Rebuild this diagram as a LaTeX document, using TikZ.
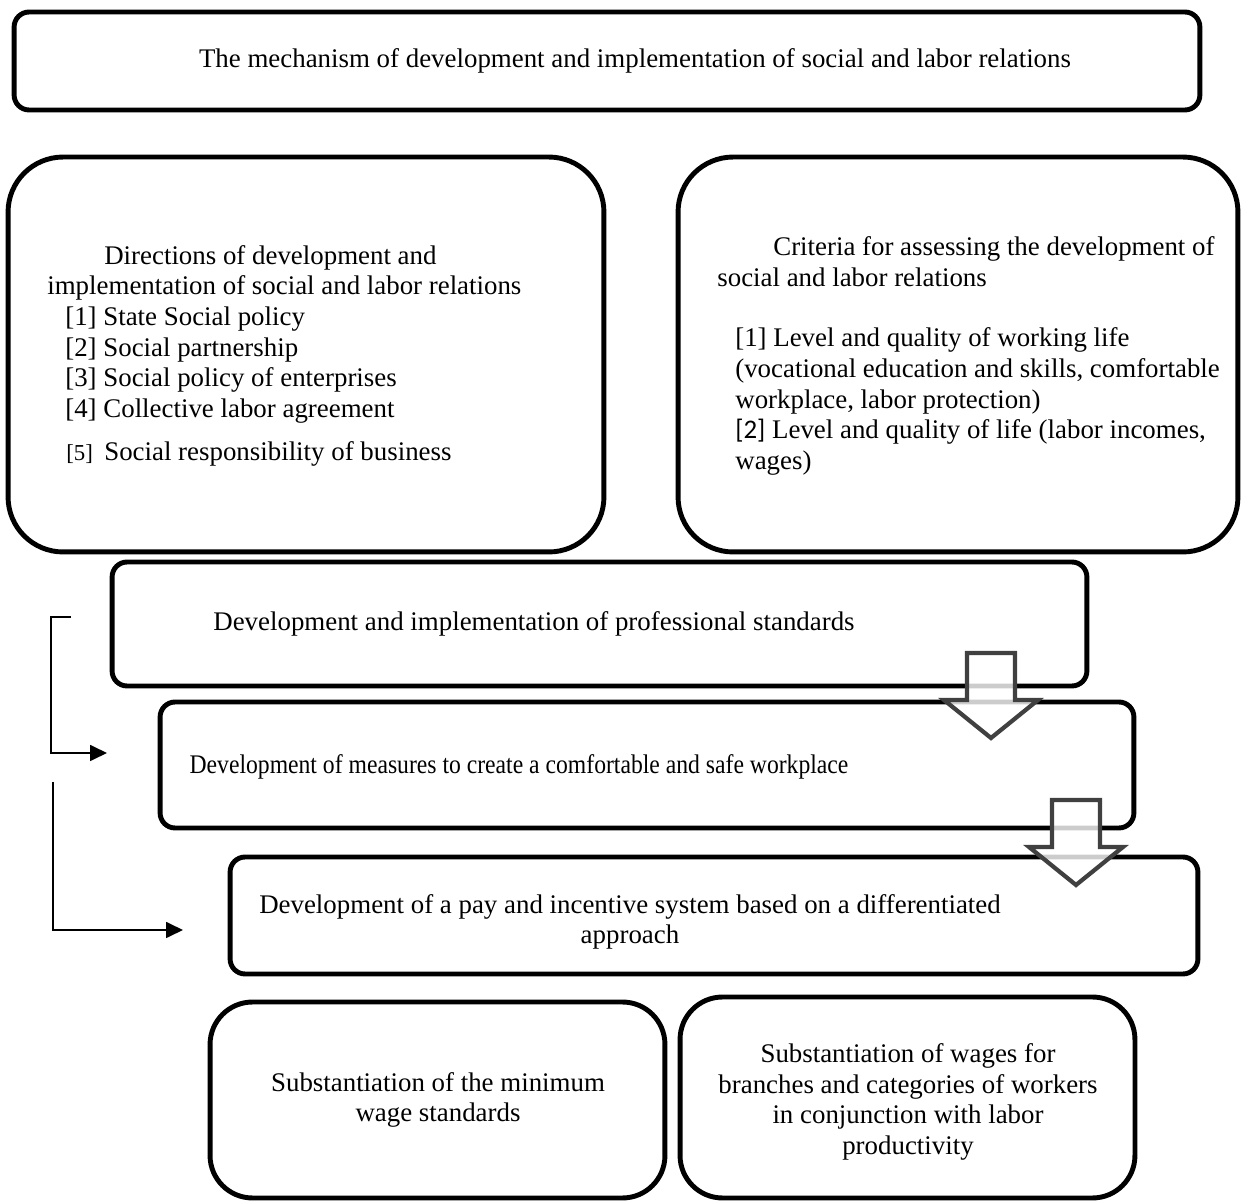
\documentclass[tikz,border=0pt]{standalone}
\usepackage{fontspec}
\setmainfont{Liberation Serif}
\newfontfamily\sansnum{Carlito}
\usepackage{graphicx}
\usepackage{tikz}
\usetikzlibrary{arrows.meta,positioning,calc}

\tikzset{
	box/.style={draw, line width=2.8pt, inner sep=0pt, rounded corners=0.3cm},
	bigbox/.style={box, rounded corners=1.1cm},
	lowbox/.style={box, rounded corners=0.85cm},
	txt/.style={inner sep=0pt, font=\fontsize{15.3pt}{17.4pt}\selectfont},
	link/.style={line width=1pt, -{Triangle[length=0.34cm, width=0.32cm]}},
	hollow/.style={draw=black!75, line width=2.4pt, fill=white, fill opacity=0.8, line join=miter},
}

\begin{document}
\begin{tikzpicture}[x=0.02cm, y=-0.02cm]
		\useasboundingbox (0,0) rectangle (1242,1202);

		\node[box, minimum width=23.72cm, minimum height=1.96cm] (title) at (607,61) {};
		\node[bigbox, minimum width=11.92cm, minimum height=7.9cm] (dirs) at (306,354.5) {};
		\node[bigbox, minimum width=11.2cm, minimum height=7.9cm] (crit) at (958,354.5) {};
		\node[box, minimum width=19.5cm, minimum height=2.48cm] (prof) at (599.5,624) {};
		\node[box, minimum width=19.48cm, minimum height=2.52cm] (meas) at (647,765) {};
		\node[box, minimum width=19.36cm, minimum height=2.34cm] (pay) at (714,915.5) {};
		\node[lowbox, minimum width=9.1cm, minimum height=3.92cm] (minw) at (437.5,1100) {};
		\node[lowbox, minimum width=9.1cm, minimum height=4.02cm] (wages) at (907.5,1097.5) {};

		\node[txt] (titletxt) at (635,61) {The mechanism of development and implementation of social and labor relations};

		\node[txt, anchor=west, align=left] (dirstxt) at (47,356) {\hspace*{1.14cm}Directions of development and\\
			implementation of social and labor relations\\
			\hspace*{0.36cm}[1] State Social policy\\
			\hspace*{0.36cm}[2] Social partnership\\
			\hspace*{0.36cm}[3] Social policy of enterprises\\
			\hspace*{0.36cm}[4] Collective labor agreement\\[0.26cm]
			\hspace*{0.38cm}\makebox[0.76cm][l]{\fontsize{13pt}{13pt}\selectfont[5]}Social responsibility of business};

		\node[txt, anchor=west, align=left] (crittxt) at (717,356) {\hspace*{1.12cm}Criteria for assessing the development of\\
			social and labor relations\\[0.6cm]
			\hspace*{0.36cm}[1] Level and quality of working life\\
			\hspace*{0.36cm}(vocational education and skills, comfortable\\
			\hspace*{0.36cm}workplace, labor protection)\\
			\hspace*{0.36cm}{\sansnum [2]} Level and quality of life (labor incomes,\\
			\hspace*{0.36cm}wages)};

		\node[txt] (proftxt) at (534,624) {Development and implementation of professional standards};
		\node[txt] (meastxt) at (519,767) {\scalebox{0.88}[1]{Development of measures to create a comfortable and safe workplace}};
		\node[txt, align=center] (paytxt) at (630,922) {Development of a pay and incentive system based on a differentiated\\ approach};
		\node[txt, align=center] (minwtxt) at (438,1100) {Substantiation of the minimum\\ wage standards};
		\node[txt, align=center] (wagestxt) at (908,1102) {Substantiation of wages for\\ branches and categories of workers\\ in conjunction with labor\\ productivity};

		\coordinate (k1) at (71,617);
		\coordinate (k2) at (51,753);
		\coordinate (k3) at (107,753);
		\coordinate (k4) at (53,782);
		\coordinate (k5) at (183,930);
		\draw[link] (k1) -| (k2) -- (k3);
		\draw[link] (k4) |- (k5);

		\coordinate (a1) at (991,653);
		\coordinate (a2) at (1076,800);
		\foreach \a in {a1,a2} {
		\draw[hollow] (\a) ++(-24,0) -- ++(48,0) -- ++(0,47) -- ++(23,0) -- ++(-47,38) -- ++(-47,-38) -- ++(23,0) -- cycle;
		}
	\end{tikzpicture}
\end{document}
